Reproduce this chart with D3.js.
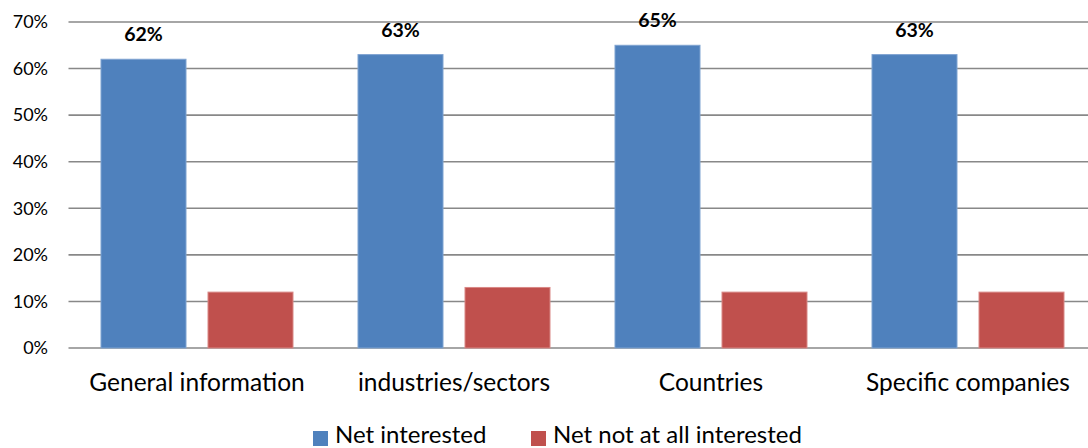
<!DOCTYPE html>
<html>
<head>
<meta charset="utf-8">
<script src="https://cdn.jsdelivr.net/npm/d3@7"></script>
<style>
  html, body { margin: 0; padding: 0; background: #fff; }
  svg { display: block; font-family: Lato, "Open Sans", "Liberation Sans", sans-serif; }
</style>
</head>
<body>
<svg id="chart" width="1088" height="448"></svg>
<script>
// Chart data
const categories = ["General information", "industries/sectors", "Countries", "Specific companies"];
const seriesNames = ["Net interested", "Net not at all interested"];
const netInterested = [62, 63, 65, 63];
const netNotInterested = [12, 13, 12, 12];
const yTicks = [0, 10, 20, 30, 40, 50, 60, 70];
const colors = ["#4F81BD", "#C0504D"];
const strokeColors = ["#7FA3D1", "#D98886"];

const svg = d3.select("#chart");
const margin = { left: 68.5, right: 1096.5, top: 22, bottom: 348 };

const x0 = d3.scaleBand().domain(categories).range([margin.left, margin.right]).paddingInner(0).paddingOuter(0);
const x1 = d3.scaleBand().domain(seriesNames).range([32.5, x0.bandwidth() - 32.5]).paddingInner(22 / 107);
const y = d3.scaleLinear().domain([0, 70]).range([margin.bottom, margin.top]);

// Gridlines
svg.append("g")
  .selectAll("line")
  .data(yTicks)
  .join("line")
  .attr("x1", margin.left)
  .attr("x2", 1088)
  .attr("y1", d => y(d))
  .attr("y2", d => y(d))
  .attr("stroke", "#888888")
  .attr("stroke-width", 1.6);

// Y axis labels
const yAxis = d3.axisLeft(y).tickValues(yTicks).tickFormat(d => d + "%").tickSize(0).tickPadding(0);
const yg = svg.append("g").attr("transform", "translate(48,0)").call(yAxis);
yg.select(".domain").remove();
yg.selectAll("text").attr("font-size", 18).attr("fill", "#000").attr("font-family", "Lato, 'Open Sans', sans-serif");

// Bars
const rows = categories.map((c, i) => ({ cat: c, vals: [netInterested[i], netNotInterested[i]] }));
const groups = svg.append("g").selectAll("g")
  .data(rows)
  .join("g")
  .attr("transform", d => `translate(${x0(d.cat)},0)`);

groups.selectAll("rect")
  .data(d => d.vals.map((v, k) => ({ v, k })))
  .join("rect")
  .attr("x", d => x1(seriesNames[d.k]))
  .attr("width", x1.bandwidth())
  .attr("y", d => y(d.v))
  .attr("height", d => y(0) - y(d.v))
  .attr("fill", d => colors[d.k])
  .attr("stroke", d => strokeColors[d.k])
  .attr("stroke-width", 1);

// Value labels on the first series
groups.append("text")
  .attr("x", d => x1(seriesNames[0]) + x1.bandwidth() / 2)
  .attr("y", d => y(d.vals[0]) - 18)
  .attr("text-anchor", "middle")
  .attr("font-size", 19.5)
  .attr("font-weight", "bold")
  .attr("fill", "#000")
  .text(d => d.vals[0] + "%");

// Category labels
svg.append("g").selectAll("text")
  .data(categories)
  .join("text")
  .attr("x", d => x0(d) + x0.bandwidth() / 2)
  .attr("y", 391)
  .attr("text-anchor", "middle")
  .attr("font-size", 24.5)
  .attr("fill", "#000")
  .text(d => d);

// Legend
const legendX = [313, 531];
const legend = svg.append("g").selectAll("g")
  .data(seriesNames)
  .join("g")
  .attr("transform", (d, i) => `translate(${legendX[i]},0)`);
legend.append("rect")
  .attr("x", 0).attr("y", 431).attr("width", 15).attr("height", 15)
  .attr("fill", (d, i) => colors[i]);
legend.append("text")
  .attr("x", 22).attr("y", 443)
  .attr("font-size", 24)
  .attr("fill", "#000")
  .text(d => d);
</script>
</body>
</html>
